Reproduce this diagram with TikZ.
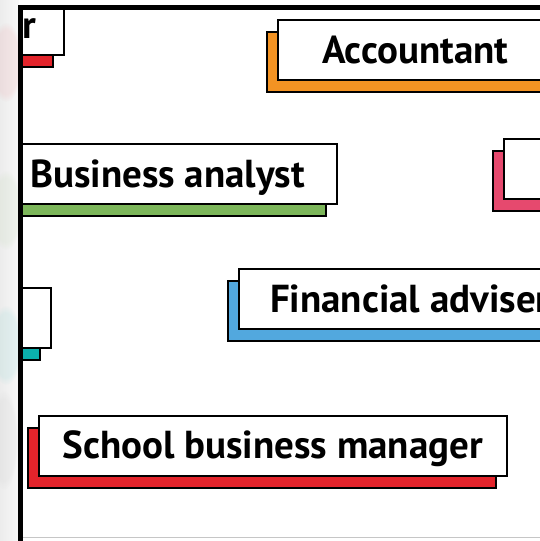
\documentclass[tikz,border=0pt]{standalone}
\usepackage{fontspec}
\setmainfont{PT Sans}
\usetikzlibrary{shadows,fadings}
\definecolor{orangeC}{RGB}{243,147,35}
\definecolor{greenC}{RGB}{124,182,90}
\definecolor{pinkC}{RGB}{230,73,110}
\definecolor{blueC}{RGB}{82,168,222}
\definecolor{tealC}{RGB}{11,176,172}
\definecolor{redC}{RGB}{227,36,43}
\begin{document}
\begin{tikzpicture}[x=1pt,y=-1pt,
  card/.style={draw=black, fill=white, line width=2pt, minimum height=60pt,
    inner xsep=26pt, inner ysep=0pt, text=black, text height=28pt, text depth=2pt,
    font=\fontsize{39}{44}\selectfont\bfseries},
  sh/.style={general shadow={shadow xshift=-11pt, shadow yshift=-12pt,
    fill=#1, draw=black, line width=2pt}},
  frameline/.style={line width=4.5pt, black}]
\useasboundingbox (0,0) rectangle (540,541);
\fill[white] (0,0) rectangle (540,541);
% blurred surroundings on the left
\shade[left color=gray!15, right color=gray!5] (0,0) rectangle (19,541);
\fill[redC, opacity=0.07, path fading=circle with fuzzy edge 20 percent] (6,62) ellipse (16pt and 40pt);
\fill[greenC, opacity=0.07, path fading=circle with fuzzy edge 20 percent] (6,210) ellipse (16pt and 40pt);
\fill[tealC, opacity=0.08, path fading=circle with fuzzy edge 20 percent] (6,345) ellipse (16pt and 40pt);
\fill[gray, opacity=0.06, path fading=circle with fuzzy edge 20 percent] (4,440) ellipse (14pt and 50pt);
\begin{scope}
  \clip (22.5,9.5) rectangle (540,537);
  \node[card, sh=redC, anchor=east, inner xsep=28pt] (officer) at (65,25) {r};
  \node[card, sh=orangeC, anchor=west, inner xsep=44pt] (accountant) at (277,50) {Accountant};
  \node[card, sh=greenC, anchor=east, inner xsep=32pt] (analyst) at (338,174) {Business analyst};
  \node[card, sh=pinkC, anchor=west, minimum width=120pt] (pinkbox) at (503,168.5) {};
  \node[card, sh=tealC, anchor=east, minimum width=60pt] (tealbox) at (52,317.5) {};
  \node[card, sh=blueC, anchor=west, inner xsep=31pt] (adviser) at (238,299) {Financial adviser};
  \node[card, sh=redC, anchor=west, inner xsep=24pt] (sbm) at (37.5,445.5) {School business manager};
\end{scope}
% viewport frame
\draw[gray!45, line width=1pt] (22,537.5) -- (540,537.5);
\draw[frameline] (20.25,541) -- (20.25,7.25) -- (545,7.25);
\end{tikzpicture}
\end{document}
